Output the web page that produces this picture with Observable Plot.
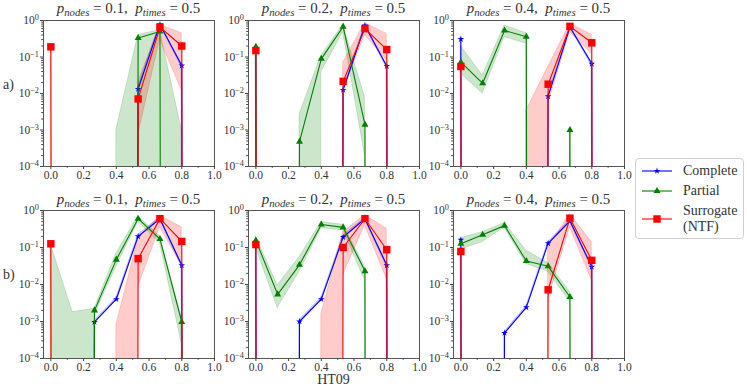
<!DOCTYPE html>
<html><head><meta charset="utf-8">
<script src="https://cdn.jsdelivr.net/npm/d3@7"></script>
<script src="https://cdn.jsdelivr.net/npm/@observablehq/plot@0.6"></script>
<style>
body{margin:0;background:#fff;}
#fig{position:relative;width:747px;height:390px;overflow:hidden;font-family:"Liberation Serif","Times New Roman",Times,"DejaVu Serif",serif;color:#333;}
.panel{position:absolute;}
.title{position:absolute;font-size:15px;white-space:nowrap;transform:translate(-50%,-50%);line-height:1;}
.title sub{font-size:0.72em;vertical-align:-0.3em;line-height:0;}
.lab{position:absolute;font-size:14px;transform:translateY(-50%);line-height:1;}
#legend{position:absolute;left:635px;top:158px;width:107px;height:79px;border:1px solid #d0d0d0;border-radius:4px;background:rgba(255,255,255,0.8);}
#legend .item{position:absolute;left:47px;font-size:14px;line-height:16px;transform:translateY(-50%);}
#legend svg{position:absolute;left:5px;}
</style></head><body><div id="fig"></div>
<script>
// ---------- data ----------
const xs = [0, 0.1333, 0.2667, 0.4, 0.5333, 0.6667, 0.8, 0.9333];
const xTicks = [0, 0.2, 0.4, 0.6, 0.8, 1.0];
const xMinorTicks = [0.1, 0.3, 0.5, 0.7, 0.9];
const yTicks = [1e-4, 1e-3, 1e-2, 1e-1, 1];
const yMinorTicks = [2e-4,3e-4,4e-4,5e-4,6e-4,7e-4,8e-4,9e-4,
                     2e-3,3e-3,4e-3,5e-3,6e-3,7e-3,8e-3,9e-3,
                     2e-2,3e-2,4e-2,5e-2,6e-2,7e-2,8e-2,9e-2,
                     0.2,0.3,0.4,0.5,0.6,0.7,0.8,0.9];
const seriesNames = ["Complete", "Partial", "Surrogate", "(NTF)"];
const pNodes = [0.1, 0.2, 0.4];
const pTimes = [0.5, 0.5, 0.5];
const rowLabels = ["a)", "b)"];
const xLabel = "HT09";

// row a
const a1_complete   = [0, 0, 0, 0, 0.0133, 0.78, 0.058, 0];
const a1_completeLo = [0, 0, 0, 0, 0.012, 0.74, 0.052, 0];
const a1_completeHi = [0, 0, 0, 0, 0.015, 0.82, 0.064, 0];
const a1_partial    = [0, 0, 0, 0, 0.33, 0.5, 0, 0];
const a1_partialLo  = [0, 0, 0, 0, 0, 0, 0, 0];
const a1_partialHi  = [0, 0, 0, 0.001, 0.4, 0.55, 0.001, 0];
const a1_surr       = [0.19, 0, 0, 0, 0.0071, 0.66, 0.2, 0];
const a1_surrLo     = [0.06, 0, 0, 0, 0.0007, 0.3, 0.012, 0];
const a1_surrHi     = [0.22, 0, 0, 0, 0.02, 0.75, 0.45, 0];

const a2_complete   = [0.17, 0, 0, 0, 0.0125, 0.73, 0.056, 0];
const a2_completeLo = [0.15, 0, 0, 0, 0.011, 0.69, 0.05, 0];
const a2_completeHi = [0.19, 0, 0, 0, 0.014, 0.77, 0.062, 0];
const a2_partial    = [0.19, 0, 0.00048, 0.089, 0.68, 0.0014, 0, 0];
const a2_partialLo  = [0.12, 0, 0, 0.038, 0.48, 0.0002, 0, 0];
const a2_partialHi  = [0.21, 0, 0.0027, 0.11, 0.75, 0.008, 0, 0];
const a2_surr       = [0.15, 0, 0, 0, 0.0215, 0.6, 0.16, 0];
const a2_surrLo     = [0.1, 0, 0, 0, 0.012, 0.4, 0.08, 0];
const a2_surrHi     = [0.17, 0, 0, 0, 0.07, 0.85, 0.43, 0];

const a3_complete   = [0.31, 0, 0, 0, 0.0083, 0.66, 0.065, 0];
const a3_completeLo = [0.28, 0, 0, 0, 0.0075, 0.62, 0.058, 0];
const a3_completeHi = [0.34, 0, 0, 0, 0.0092, 0.7, 0.072, 0];
const a3_partial    = [0.072, 0.019, 0.53, 0.36, 0, 0.001, 0, 0];
const a3_partialLo  = [0.035, 0.01, 0.35, 0.23, 0, 0.001, 0, 0];
const a3_partialHi  = [0.2, 0.031, 0.73, 0.45, 0, 0.001, 0, 0];
const a3_surr       = [0.055, 0, 0, 0, 0.018, 0.69, 0.245, 0];
const a3_surrLo     = [0.04, 0, 0, 0, 0.005, 0.48, 0.12, 0];
const a3_surrHi     = [0.07, 0, 0, 0.0034, 0.053, 0.81, 0.41, 0];

// row b
const b1_complete   = [0, 0, 0.00097, 0.004, 0.2, 0.6, 0.033, 0];
const b1_completeLo = [0, 0, 0.0009, 0.0037, 0.18, 0.56, 0.03, 0];
const b1_completeHi = [0, 0, 0.00105, 0.0044, 0.22, 0.64, 0.037, 0];
const b1_partial    = [0, 0, 0.002, 0.047, 0.6, 0.17, 0.00097, 0];
const b1_partialLo  = [0, 0, 0.0015, 0.03, 0.5, 0.13, 0.00025, 0];
const b1_partialHi  = [0.12, 0.0018, 0.0022, 0.068, 0.7, 0.2, 0.0012, 0];
const b1_surr       = [0.126, 0, 0, 0, 0.05, 0.6, 0.146, 0];
const b1_surrLo     = [0.04, 0, 0, 0, 0.0085, 0.35, 0.033, 0];
const b1_surrHi     = [0.15, 0, 0, 0.0008, 0.17, 0.73, 0.35, 0];

const b2_complete   = [0.14, 0, 0.001, 0.004, 0.19, 0.6, 0.033, 0];
const b2_completeLo = [0.13, 0, 0.0009, 0.0037, 0.17, 0.56, 0.03, 0];
const b2_completeHi = [0.15, 0, 0.0011, 0.0044, 0.21, 0.64, 0.037, 0];
const b2_partial    = [0.155, 0.0054, 0.034, 0.42, 0.35, 0.023, 0, 0];
const b2_partialLo  = [0.1, 0.0023, 0.022, 0.33, 0.29, 0.013, 0, 0];
const b2_partialHi  = [0.2, 0.0095, 0.055, 0.49, 0.41, 0.03, 0, 0];
const b2_surr       = [0.12, 0, 0, 0, 0.1, 0.6, 0.087, 0];
const b2_surrLo     = [0.08, 0, 0, 0, 0.018, 0.4, 0.014, 0];
const b2_surrHi     = [0.14, 0, 0, 0.0016, 0.26, 0.75, 0.32, 0];

const b3_complete   = [0.16, 0, 0.00049, 0.0024, 0.13, 0.52, 0.03, 0];
const b3_completeLo = [0.15, 0, 0.00045, 0.0022, 0.12, 0.49, 0.027, 0];
const b3_completeHi = [0.17, 0, 0.00053, 0.0026, 0.14, 0.55, 0.033, 0];
const b3_partial    = [0.126, 0.22, 0.39, 0.043, 0.031, 0.0046, 0, 0];
const b3_partialLo  = [0.087, 0.14, 0.34, 0.036, 0.022, 0.0034, 0, 0];
const b3_partialHi  = [0.18, 0.26, 0.46, 0.083, 0.038, 0.0063, 0, 0];
const b3_surr       = [0.078, 0, 0, 0, 0.0072, 0.62, 0.045, 0];
const b3_surrLo     = [0.05, 0, 0, 0, 0.004, 0.35, 0.013, 0];
const b3_surrHi     = [0.1, 0, 0, 0, 0.1, 0.8, 0.14, 0];

const panels = [
  {row:0,col:0,s:[[a1_complete,a1_completeLo,a1_completeHi],[a1_partial,a1_partialLo,a1_partialHi],[a1_surr,a1_surrLo,a1_surrHi]]},
  {row:0,col:1,s:[[a2_complete,a2_completeLo,a2_completeHi],[a2_partial,a2_partialLo,a2_partialHi],[a2_surr,a2_surrLo,a2_surrHi]]},
  {row:0,col:2,s:[[a3_complete,a3_completeLo,a3_completeHi],[a3_partial,a3_partialLo,a3_partialHi],[a3_surr,a3_surrLo,a3_surrHi]]},
  {row:1,col:0,s:[[b1_complete,b1_completeLo,b1_completeHi],[b1_partial,b1_partialLo,b1_partialHi],[b1_surr,b1_surrLo,b1_surrHi]]},
  {row:1,col:1,s:[[b2_complete,b2_completeLo,b2_completeHi],[b2_partial,b2_partialLo,b2_partialHi],[b2_surr,b2_surrLo,b2_surrHi]]},
  {row:1,col:2,s:[[b3_complete,b3_completeLo,b3_completeHi],[b3_partial,b3_partialLo,b3_partialHi],[b3_surr,b3_surrLo,b3_surrHi]]}
];

// ---------- styles ----------
const FONT = '"Liberation Serif","Times New Roman",Times,"DejaVu Serif",serif';
const styles = [
  {color:"blue",  symbol:"star",     r:2.1},
  {color:"green", symbol:"triangle", r:2.6},
  {color:"red",   symbol:"square",   r:4.2}
];
const colLeft = [43, 248, 453];        // frame left (px)
const rowGeo = [{top:20, h:146}, {top:210, h:148}];
const ML = 42, MR = 6, MT = 6, MB = 24, FW = 171;
const pos = v => v > 0 ? v : 1e-300;   // zeros fall far below the axis (as matplotlib's clip)

const fig = document.getElementById("fig");

function fixYLabels(svg) {
  svg.querySelectorAll('g[aria-label="y-axis tick label"] text').forEach(t => {
    const txt = t.textContent;
    if (!txt.includes("^")) return;
    const exp = txt.split("^")[1];
    t.textContent = "";
    const ns = "http://www.w3.org/2000/svg";
    const a = document.createElementNS(ns, "tspan"); a.textContent = "10";
    const b = document.createElementNS(ns, "tspan"); b.textContent = exp.replace("-", "\u2212");
    b.setAttribute("dy", "-0.45em"); b.setAttribute("font-size", "0.72em");
    t.appendChild(a); t.appendChild(b);
  });
}

panels.forEach(p => {
  const g = rowGeo[p.row];
  const marks = [];
  const sets = p.s.map(([v, lo, hi]) => xs.map((x, i) => ({x, v: v[i], lo: lo[i], hi: hi[i]})));
  sets.forEach((d, k) => {
    marks.push(Plot.areaY(d, {x:"x", y1: r => pos(r.lo), y2: r => pos(r.hi), fill: styles[k].color, fillOpacity: 0.2,
      stroke: styles[k].color, strokeOpacity: 0.2, strokeWidth: 0.8, clip: true}));
  });
  sets.forEach((d, k) => {
    marks.push(Plot.line(d, {x:"x", y: r => pos(r.v), stroke: styles[k].color, strokeWidth: 1.1, clip: true}));
    marks.push(Plot.dot(d.filter(r => r.v > 0), {x:"x", y:"v", symbol: styles[k].symbol, r: styles[k].r, fill: styles[k].color, stroke: "none"}));
  });
  marks.push(Plot.axisX({ticks: xTicks, tickFormat: d3.format(".1f"), tickSize: 3, tickPadding: 1, label: null, stroke: "#444"}));
  marks.push(Plot.axisX({ticks: xMinorTicks, tickFormat: () => "", tickSize: 1.8, label: null, stroke: "#444"}));
  marks.push(Plot.axisY({ticks: yTicks, tickFormat: d => "10^" + Math.round(Math.log10(d)), tickSize: 3, tickPadding: 1.5, label: null, stroke: "#444"}));
  marks.push(Plot.axisY({ticks: yMinorTicks, tickFormat: () => "", tickSize: 1.8, label: null, stroke: "#444"}));
  marks.push(Plot.frame({stroke: "#444", strokeWidth: 0.9}));

  const chart = Plot.plot({
    width: ML + FW + MR, height: MT + g.h + MB,
    marginLeft: ML, marginRight: MR, marginTop: MT, marginBottom: MB,
    x: {domain: [-0.045, 1]},
    y: {type: "log", domain: [1e-4, 1]},
    style: {fontFamily: FONT, fontSize: "11.5px", background: "transparent", overflow: "visible", color: "#333"},
    marks
  });
  fixYLabels(chart);
  const div = document.createElement("div");
  div.className = "panel";
  div.style.left = (colLeft[p.col] - ML) + "px";
  div.style.top = (g.top - MT) + "px";
  div.style.width = (ML + FW + MR) + "px";
  div.appendChild(chart);
  fig.appendChild(div);

  const t = document.createElement("div");
  t.className = "title";
  t.style.left = (colLeft[p.col] + FW / 2) + "px";
  t.style.top = (p.row === 0 ? 8 : 199) + "px";
  t.innerHTML = `<i>p</i><sub><i>nodes</i></sub> = ${pNodes[p.col]},&nbsp; <i>p</i><sub><i>times</i></sub> = ${pTimes[p.col]}`;
  fig.appendChild(t);
});

// row labels and x label
rowLabels.forEach((s, i) => {
  const d = document.createElement("div");
  d.className = "lab"; d.textContent = s;
  d.style.left = "3px"; d.style.top = (i === 0 ? 85 : 275) + "px";
  fig.appendChild(d);
});
const xl = document.createElement("div");
xl.className = "lab"; xl.textContent = xLabel;
xl.style.left = (colLeft[1] + FW / 2) + "px"; xl.style.top = "380px";
xl.style.transform = "translate(-50%,-50%)";
fig.appendChild(xl);

// legend
const leg = document.createElement("div");
leg.id = "legend";
const legRows = [
  {k:0, y:12, text: seriesNames[0]},
  {k:1, y:32, text: seriesNames[1]},
  {k:2, y:60, text: seriesNames[2] + "<br>" + seriesNames[3]}
];
legRows.forEach(r => {
  const st = styles[r.k];
  const sym = d3.symbol(st.symbol === "star" ? d3.symbolStar : st.symbol === "triangle" ? d3.symbolTriangle : d3.symbolSquare, Math.PI * st.r * st.r)();
  const svg = `<svg width="32" height="12" style="top:${r.y - 6}px"><line x1="1" x2="31" y1="6" y2="6" stroke="${st.color}" stroke-width="1.1"/><path d="${sym}" transform="translate(16,6)" fill="${st.color}"/></svg>`;
  leg.insertAdjacentHTML("beforeend", svg + `<div class="item" style="top:${r.y}px">${r.text}</div>`);
});
fig.appendChild(leg);
</script></body></html>
